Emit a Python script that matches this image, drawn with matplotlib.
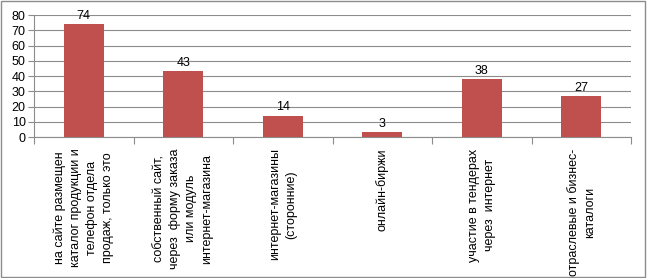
import matplotlib
matplotlib.use("Agg")
import matplotlib.pyplot as plt
from matplotlib.ticker import FixedLocator, NullFormatter
import numpy as np

categories = [
    "на сайте размещен\nкаталог продукции и\nтелефон отдела\nпродаж, только это",
    "собственный сайт,\nчерез  форму заказа\nили модуль\nинтернет-магазина",
    "интернет-магазины\n(сторонние)",
    "онлайн-биржи",
    "участие в тендерах\nчерез  интернет",
    "отраслевые и бизнес-\nкаталоги",
]
values = [74, 43, 14, 3, 38, 27]
yticks = [0, 10, 20, 30, 40, 50, 60, 70, 80]

plt.rcParams['font.family'] = ['Liberation Sans', 'DejaVu Sans']
fig = plt.figure(figsize=(6.47, 2.78), dpi=100)
ax = fig.add_axes([34/647, 1-137/278, (631-34)/647, (137-15)/278])

x = np.arange(len(values))
ax.bar(x, values, width=0.4, color="#C0504D", zorder=3)
for xi, v in zip(x, values):
    ax.text(xi, v + 1.5, str(v), ha="center", va="bottom", fontsize=9, color="black")

ax.set_xlim(-0.5, len(values) - 0.5)
ax.set_ylim(0, 80)
ax.set_yticks(yticks)
ax.set_yticklabels([str(t) for t in yticks], fontsize=9)
ax.yaxis.grid(True, color="#8c8c8c", linewidth=0.8, zorder=0)
ax.set_axisbelow(True)

ax.xaxis.set_major_locator(FixedLocator(np.arange(-0.5, len(values) + 0.5, 1)))
ax.xaxis.set_major_formatter(NullFormatter())
ax.tick_params(axis="x", direction="out", length=5, color="#8c8c8c", width=0.8)
ax.tick_params(axis="y", direction="out", length=4, color="#8c8c8c", width=0.8, pad=2)

for xi, lab in zip(x, categories):
    ax.text(xi, -7.5, lab, rotation=90, ha="center", va="top", multialignment="center",
            fontsize=9, linespacing=1.45, transform=ax.transData, clip_on=False)

for s in ["top", "right"]:
    ax.spines[s].set_visible(False)
for s in ["left", "bottom"]:
    ax.spines[s].set_color("#8c8c8c")
    ax.spines[s].set_linewidth(0.8)

border = plt.Rectangle((0.002, 0.004), 0.995, 0.992, transform=fig.transFigure,
                       fill=False, edgecolor="#8c8c8c", linewidth=1)
fig.patches.append(border)

fig.savefig("out.png", dpi=100)
